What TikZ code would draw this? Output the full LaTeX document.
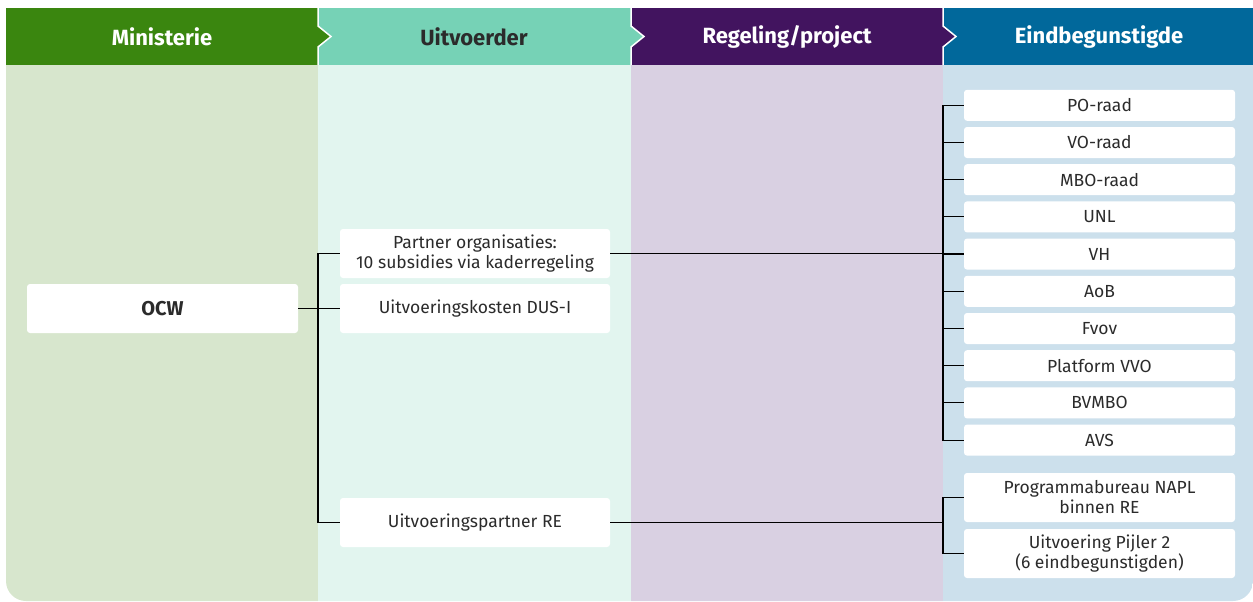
\documentclass[tikz,border=0pt]{standalone}
\usepackage{fontspec}
\setmainfont{Fira Sans}
\definecolor{hgreen}{HTML}{3A860F}
\definecolor{hteal}{HTML}{76D2B6}
\definecolor{hpurple}{HTML}{42145F}
\definecolor{hblue}{HTML}{01689B}
\definecolor{bgreen}{HTML}{D7E6CD}
\definecolor{bteal}{HTML}{E2F5EF}
\definecolor{bpurple}{HTML}{D9D0E2}
\definecolor{bblue}{HTML}{CCE0EC}
\definecolor{txt}{HTML}{2B2B2B}
\begin{document}
\begin{tikzpicture}[x=1pt,y=-1pt,
  box/.style={fill=white, rounded corners=3pt, minimum width=271pt, minimum height=31pt,
    inner sep=0pt, align=center, text=txt, font=\fontsize{17.5}{20}\selectfont},
  tallbox/.style={box, minimum height=49pt},
  head/.style={font=\bfseries\fontsize{22}{26}\selectfont, text=white},
  conn/.style={draw=black, line width=1.1pt},
  sep/.style={draw=white, line width=1.5pt}]
\useasboundingbox (0,0) rectangle (1253,602);
\begin{scope}
\clip[rounded corners=20pt] (6,-60) rectangle (1253,601);
% bodies
\fill[bgreen] (6,65) rectangle (318,610);
\fill[bteal] (318,65) rectangle (631,610);
\fill[bpurple] (631,65) rectangle (943,610);
\fill[bblue] (943,65) rectangle (1260,610);
% headers
\fill[hgreen] (6,8) rectangle (318,65);
\fill[hteal] (318,8) rectangle (631,65);
\fill[hpurple] (631,8) rectangle (943,65);
\fill[hblue] (943,8) rectangle (1260,65);
\fill[hgreen] (318,26) -- (331,36.5) -- (318,47) -- cycle;
\fill[hteal] (631,26) -- (644,36.5) -- (631,47) -- cycle;
\fill[hpurple] (943,26) -- (956,36.5) -- (943,47) -- cycle;
\draw[sep] (318,8) -- (318,26) -- (331,36.5) -- (318,47) -- (318,65);
\draw[sep] (631,8) -- (631,26) -- (644,36.5) -- (631,47) -- (631,65);
\draw[sep] (943,8) -- (943,26) -- (956,36.5) -- (943,47) -- (943,65);
\end{scope}
\node[head] (h1) at (162,37) {Ministerie};
\node[head, text=txt] (h2) at (474,37) {Uitvoerder};
\node[head] (h3) at (787,37) {Regeling/project};
\node[head] (h4) at (1099,37) {Eindbegunstigde};
% nodes
\node[tallbox, font=\bfseries\fontsize{20}{24}\selectfont] (ocw) at (162.5,308.5) {OCW};
\node[tallbox, minimum width=270pt] (partner) at (475,253.5) {Partner organisaties:\\10 subsidies via kaderregeling};
\node[tallbox, minimum width=270pt] (dus) at (475,308.5) {Uitvoeringskosten DUS-I};
\node[tallbox, minimum width=270pt] (re) at (475,522.5) {Uitvoeringspartner RE};
\foreach \t [count=\i] in {PO-raad,VO-raad,MBO-raad,UNL,VH,AoB,Fvov,Platform VVO,BVMBO,AVS}{
  \node[box] (b\i) at (1099.5,{105.3+37.2*(\i-1)}) {\t};
}
\node[tallbox] (p1) at (1099.5,497.5) {Programmabureau NAPL\\binnen RE};
\node[tallbox] (p2) at (1099.5,553.5) {Uitvoering Pijler 2\\(6 eindbegunstigden)};
% buses
\coordinate (bus1) at (318,0);
\coordinate (bus2) at (943,0);
\draw[conn] (ocw.east) -- (ocw.east -| bus1);
\draw[conn] (dus.west) -- (dus.west -| bus1);
\draw[conn] (partner.west) -- (partner.west -| bus1) |- (re.west);
\draw[conn] (partner.east) -- (partner.east -| b5.west);
\draw[conn] (b1.west) -- (b1.west -| bus2) |- (b10.west);
\foreach \i in {2,...,9}{ \draw[conn] (b\i.west) -- (b\i.west -| bus2); }
\draw[conn] (re.east) -- (re.east -| bus2);
\draw[conn] (p1.west) -- (p1.west -| bus2) |- (p2.west);
\end{tikzpicture}
\end{document}
